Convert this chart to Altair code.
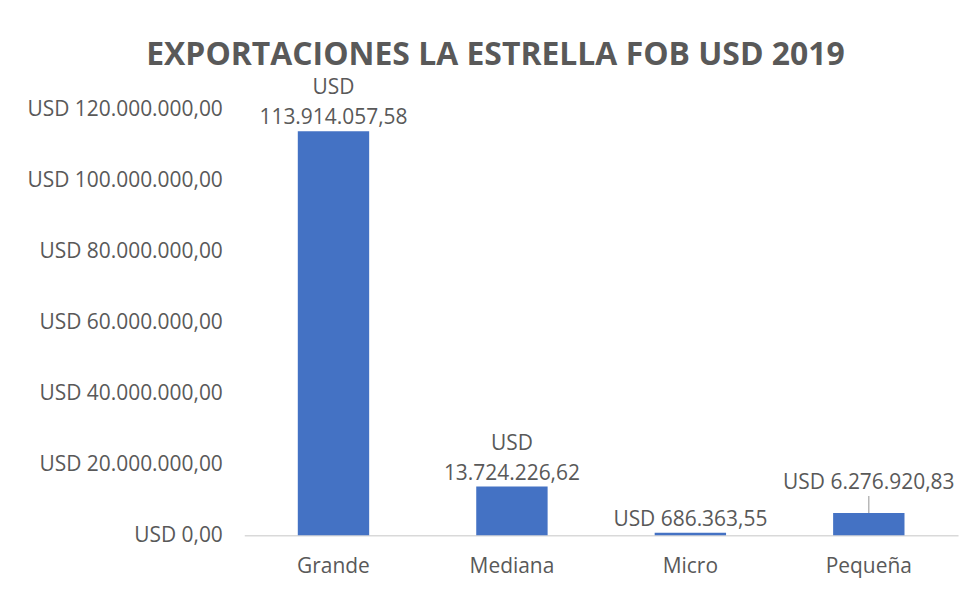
import altair as alt
import pandas as pd

categories = ["Grande", "Mediana", "Micro", "Pequeña"]
values = [113914057.58, 13724226.62, 686363.55, 6276920.83]
y_ticks = [0, 20000000, 40000000, 60000000, 80000000, 100000000, 120000000]
title_text = "EXPORTACIONES LA ESTRELLA FOB USD 2019"


def fmt(v):
    s = f"{v:,.2f}"
    return s.replace(",", "#").replace(".", ",").replace("#", ".")


label_top = ["USD", "USD", "", ""]
label_bottom = [fmt(values[0]), fmt(values[1]),
                "USD " + fmt(values[2]), "USD " + fmt(values[3])]

df = pd.DataFrame({"cat": categories, "val": values,
                   "top": label_top, "bot": label_bottom})

FONT = "Open Sans"
TXT = "#595959"
FS = 21

x = alt.X("cat:N", sort=categories, title=None,
          scale=alt.Scale(paddingInner=0.6, paddingOuter=0.3),
          axis=alt.Axis(labelAngle=0, ticks=False, domainColor="#D9D9D9",
                        domainWidth=1.5, labelPadding=20, labelFontSize=FS,
                        labelColor=TXT, labelFont=FONT))
y = alt.Y("val:Q", title=None,
          scale=alt.Scale(domain=[0, 120000000], nice=False),
          axis=alt.Axis(values=y_ticks, grid=False, domain=False, ticks=False,
                        labelPadding=22, labelFontSize=FS, labelColor=TXT,
                        labelFont=FONT, labelLimit=0, format="$,.2f"))
xs = alt.X("cat:N", sort=categories)

base = alt.Chart(df)

bars = base.mark_bar(color="#4472C4").encode(x=x, y=y)

lab_bot = base.transform_filter("datum.cat != 'Pequeña'").mark_text(
    baseline="bottom", dy=-3, fontSize=FS, color=TXT, font=FONT
).encode(x=xs, y="val:Q", text="bot")

lab_top = base.transform_filter("datum.top != ''").mark_text(
    baseline="bottom", dy=-33, fontSize=FS, color=TXT, font=FONT
).encode(x=xs, y="val:Q", text="top")

callout = base.transform_filter("datum.cat == 'Pequeña'").mark_text(
    baseline="bottom", dy=-20, fontSize=FS, color=TXT, font=FONT
).encode(x=xs, y="val:Q", text="bot")

leader = base.transform_filter("datum.cat == 'Pequeña'").mark_rule(
    color="#A6A6A6", strokeWidth=1.2, y2Offset=-17
).encode(x=xs, y="val:Q", y2="val:Q")

chart = alt.layer(bars, lab_bot, lab_top, callout, leader).properties(
    width=716, height=427,
    autosize=alt.AutoSizeParams(type="none"),
    padding={"left": 237, "top": 101, "right": 10, "bottom": 50},
    title=alt.TitleParams(title_text, anchor="middle", fontSize=32,
                          fontWeight="bold", color=TXT, font=FONT,
                          dx=-106, offset=5),
).configure(
    view=alt.ViewConfig(stroke=None, strokeWidth=0),
    locale={"number": {"decimal": ",", "thousands": ".", "grouping": [3],
                       "currency": ["USD ", ""]}},
)

chart.save("out.html", embed_options={"renderer": "svg", "actions": False})
